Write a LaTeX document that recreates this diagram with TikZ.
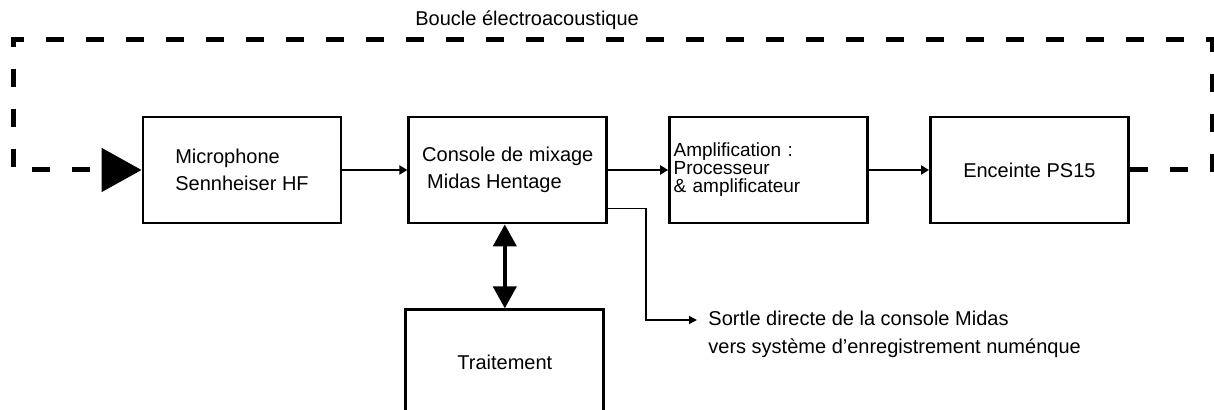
\documentclass[tikz,border=0pt]{standalone}
\usepackage{fontspec}
\setmainfont{Liberation Sans}
\usetikzlibrary{arrows.meta,positioning,calc}

\begin{document}
\begin{tikzpicture}[
  x=1pt, y=1pt,
  node distance=30pt,
  every node/.style={font=\fontsize{10}{13.5}\selectfont},
  bloc/.style={draw, line width=1.4pt, minimum width=99pt, minimum height=53pt,
    align=left, inner sep=0pt},
  fl/.style={-{Triangle[length=4pt,width=4.5pt]}, line width=1pt},
  fin/.style={-{Triangle[length=4pt,width=4pt]}, line width=0.8pt},
  dbl/.style={{Triangle[length=11pt,width=11.5pt]}-{Triangle[length=11pt,width=11.5pt]},
    line width=2pt},
  boucle/.style={line width=2.5pt, dash pattern=on 9pt off 11pt,
    -{Triangle[length=20pt,width=21.5pt]}}
]
\useasboundingbox (0,0) rectangle (607,205);
\node[bloc] (mic) at (121,120) {Microphone\\Sennheiser HF};
\node[bloc, right=32.5pt of mic] (mix) {Console de mixage\\\hspace{2.5pt}Midas Hentage};
\node[bloc, right=of mix, text width=95pt,
  font=\fontsize{9.5}{9}\selectfont] (ampli) {Amplification :\\Processeur\\\& amplificateur};
\node[bloc, right=of ampli] (enc) {Enceinte PS15};
\node[bloc, below=42pt of mix, xshift=-1.5pt] (trait) {Traitement};
\node[anchor=west, align=left, inner sep=0pt,
  font=\fontsize{10}{14}\selectfont] (sortie) at (354,38)
  {Sortle directe de la console Midas\\vers système d'enregistrement numénque};
\node[anchor=west, inner sep=0pt] (titre) at (207.5,195) {Boucle électroacoustique};
\coordinate (hd) at (606,185);
\coordinate (hg) at (6.5,185);
\draw[fl] (mic) -- (mix);
\draw[fl] (mix) -- (ampli);
\draw[fl] (ampli) -- (enc);
\draw[dbl] (trait.north) -- (trait.north |- mix.south);
\draw[fin] ([yshift=8pt]mix.south east) -- ++(19,0) |- ([xshift=-5.5pt,yshift=7pt]sortie.west);
\draw[boucle] (enc.east) -| (hd) -- (hg) |- (mic.west);
\end{tikzpicture}
\end{document}
